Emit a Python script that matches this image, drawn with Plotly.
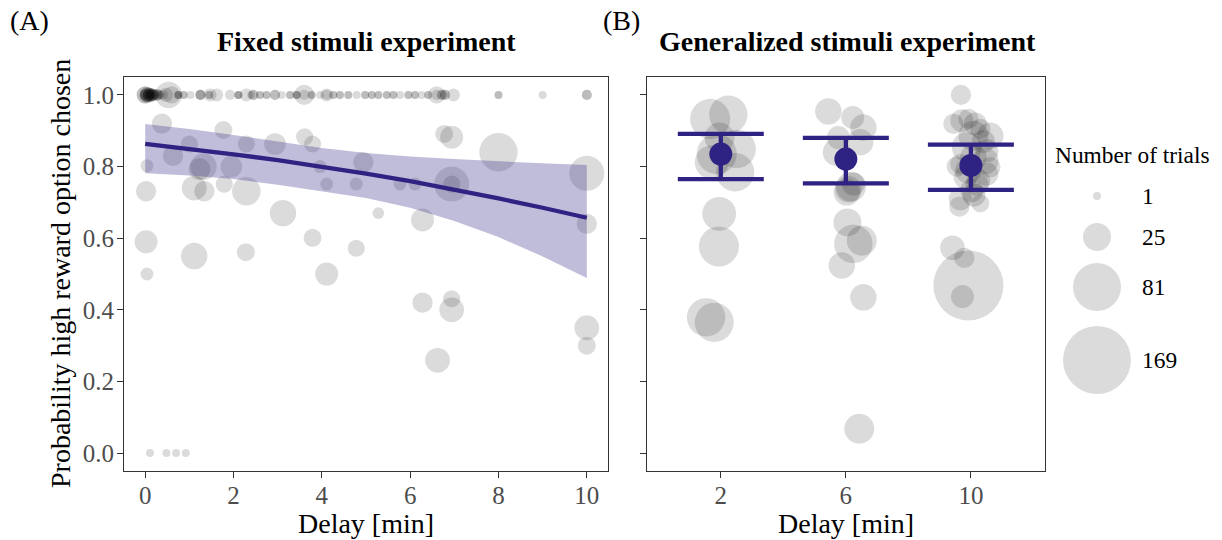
import numpy as np
import plotly.graph_objects as go

W, H = 1222, 540
FONT = "Liberation Serif"

# ---------------- Panel A: fixed stimuli experiment ----------------
# points at probability 1.0 (delay, trials, number of overlapping repeats)
top_delay = [0.00, 0.00, 0.02, 0.05, 0.05, 0.08, 0.10, 0.12, 0.15, 0.18, 0.22, 0.26, 0.30, 0.35, 0.40,
             0.47, 0.53, 0.60, 0.75, 0.87, 1.02, 1.25, 1.45, 1.47, 1.62, 1.92, 2.11, 2.29, 2.40, 2.45,
             2.60, 2.75, 2.94, 3.09, 3.28, 3.43, 3.60, 3.60, 3.77, 3.96, 4.11, 4.11, 4.26, 4.41, 4.60,
             4.79, 4.98, 5.13, 5.28, 5.47, 5.62, 5.77, 5.96, 6.11, 6.26, 6.41, 6.60, 6.60, 6.72, 6.79,
             6.98, 8.00, 9.00, 10.00]
top_trials = [8, 2, 4, 6, 1, 3, 5, 2, 4, 3, 2, 3, 2, 1, 2,
              5, 22, 8, 1, 1, 1, 2, 1, 4, 4, 2, 1, 4, 1, 2,
              1, 1, 2, 1, 1, 1, 12, 2, 1, 1, 4, 2, 1, 1, 1,
              1, 1, 1, 1, 1, 1, 1, 1, 1, 1, 1, 8, 2, 2, 2,
              4, 1, 1, 2]
top_repeats = [2, 1, 2, 2, 1, 2, 2, 1, 2, 2, 1, 2, 1, 1, 1,
               1, 1, 1, 3, 2, 1, 3, 2, 1, 1, 1, 3, 1, 1, 2,
               2, 2, 2, 1, 2, 3, 1, 1, 2, 1, 1, 1, 2, 2, 2,
               1, 2, 2, 2, 2, 2, 1, 2, 2, 1, 2, 1, 1, 2, 2,
               1, 2, 1, 2]

# remaining points of panel A
other_delay = [0.38, 1.77, 1.00, 0.63, 0.04, 1.23, 1.32, 1.95, 2.29, 2.94, 3.61, 3.79, 3.96, 4.11,
               4.94, 4.78, 0.02, 1.11, 1.34, 1.79, 2.29, 3.12, 0.02, 1.11, 2.28, 3.79, 4.78, 4.11,
               0.04, 6.77, 6.94, 8.00, 10.00, 6.94, 6.94, 5.77, 6.11, 5.28, 6.28, 10.00, 6.28, 6.94,
               6.94, 6.62, 10.00, 10.00, 0.11, 0.48, 0.70, 0.92]
other_prob = [0.920, 0.902, 0.863, 0.830, 0.802, 0.793, 0.800, 0.800, 0.863, 0.863, 0.883, 0.863, 0.800,
              0.751, 0.812, 0.751, 0.731, 0.740, 0.731, 0.751, 0.731, 0.670, 0.590, 0.550, 0.561, 0.601,
              0.572, 0.500, 0.500, 0.891, 0.882, 0.840, 0.781, 0.751, 0.751, 0.751, 0.751, 0.670, 0.651,
              0.640, 0.420, 0.431, 0.400, 0.259, 0.350, 0.300, 0.0, 0.0, 0.0, 0.0]
other_trials = [12, 9, 8, 12, 4, 14, 22, 14, 8, 14, 8, 8, 4, 4,
                12, 4, 12, 19, 12, 8, 26, 22, 16, 22, 9, 9, 8, 16,
                4, 9, 16, 50, 41, 41, 8, 4, 4, 3, 16, 12, 12, 8,
                19, 19, 19, 9, 1, 1, 1, 1]

# logistic fit and its confidence band, read at whole minutes
fit_delay = [0, 1, 2, 3, 4, 5, 6, 7, 8, 9, 10]
fit_prob = [0.863, 0.849, 0.834, 0.818, 0.800, 0.780, 0.759, 0.736, 0.711, 0.685, 0.657]
fit_upper = [0.919, 0.905, 0.888, 0.870, 0.852, 0.838, 0.828, 0.821, 0.814, 0.809, 0.804]
fit_lower = [0.781, 0.775, 0.765, 0.749, 0.731, 0.712, 0.685, 0.648, 0.603, 0.549, 0.489]

# ---------------- Panel B: generalized stimuli experiment ----------------
delay_b = [2] * 11 + [6] * 16 + [10] * 30
jitter_b = [-0.34, 0.24, -0.04, 0.51, -0.13, -0.29, 0.46, -0.05, -0.06, -0.47, -0.21,
            -0.56, 0.22, 0.56, -0.24, 0.46, -0.29, 0.08, 0.24, 0.03, 0.17, 0.05, 0.24, 0.51, -0.13, 0.56, 0.43,
            -0.32, -0.56, -0.29, -0.08, 0.14, 0.30, 0.62, 0.08, -0.13, 0.51, 0.08, 0.46, -0.34, 0.62, -0.08,
            -0.18, 0.51, 0.19, 0.03, -0.34, -0.37, 0.30, -0.59, -0.21, -0.08, -0.27, 0.40, 0.25, -0.45, 0.10]
prob_b = [0.933, 0.945, 0.881, 0.849, 0.835, 0.812, 0.784, 0.668, 0.577, 0.379, 0.365,
          0.954, 0.937, 0.909, 0.881, 0.868, 0.840, 0.737, 0.751, 0.728, 0.744, 0.644, 0.584, 0.593, 0.524, 0.435, 0.068,
          1.000, 0.919, 0.928, 0.933, 0.919, 0.905, 0.886, 0.886, 0.854, 0.844, 0.826, 0.816, 0.807, 0.798, 0.789,
          0.770, 0.779, 0.751, 0.733, 0.710, 0.688, 0.697, 0.573, 0.545, 0.468, 0.437, 0.870, 0.760, 0.800, 0.720]
trials_b = [55, 50, 29, 50, 55, 38, 50, 38, 55, 50, 52,
            22, 16, 22, 16, 22, 25, 22, 16, 22, 29, 25, 50, 29, 22, 22, 29,
            12, 12, 16, 12, 16, 12, 22, 29, 29, 16, 22, 22, 12, 12, 22,
            16, 16, 16, 16, 16, 12, 9, 19, 12, 180, 16, 16, 16, 12, 16]

groups_b = [2, 6, 10]
mean_b = [0.835, 0.821, 0.803]
lower_b = [0.765, 0.753, 0.735]
upper_b = [0.891, 0.880, 0.861]

legend_trials = [1, 25, 81, 169]

# ---------------- styling helpers ----------------
POINT = "rgba(0,0,0,0.2)"
PURPLE = "#2e2383"
AXIS = "#333333"
TICKTXT = "#4d4d4d"


def size_of(n):
    return 3 + 5 * np.sqrt(np.asarray(n, dtype=float))


def px(x):
    return x / W


def py(y):
    return 1 - y / H


top_x = np.repeat(top_delay, top_repeats)
top_n = np.repeat(top_trials, top_repeats)
delay_a = np.concatenate([top_x, other_delay])
prob_a = np.concatenate([np.ones(len(top_x)), other_prob])
trials_a = np.concatenate([top_n, other_trials])

fig = go.Figure()

# Panel A points
fig.add_trace(go.Scatter(
    x=delay_a, y=prob_a, mode="markers", xaxis="x", yaxis="y",
    marker=dict(size=size_of(trials_a), color=POINT, line=dict(width=0)),
    showlegend=False, hoverinfo="skip"))

# confidence band
fig.add_trace(go.Scatter(
    x=fit_delay + fit_delay[::-1], y=fit_upper + fit_lower[::-1],
    fill="toself", fillcolor="rgba(46,35,131,0.3)", line=dict(width=0),
    mode="lines", xaxis="x", yaxis="y", showlegend=False, hoverinfo="skip"))

# fit line
fig.add_trace(go.Scatter(
    x=fit_delay, y=fit_prob, mode="lines", line=dict(color=PURPLE, width=4.3),
    xaxis="x", yaxis="y", showlegend=False, hoverinfo="skip"))

# Panel B points
fig.add_trace(go.Scatter(
    x=np.asarray(delay_b) + np.asarray(jitter_b), y=prob_b, mode="markers", xaxis="x2", yaxis="y2",
    marker=dict(size=size_of(trials_b), color=POINT, line=dict(width=0)),
    showlegend=False, hoverinfo="skip"))

# mean with error bars
fig.add_trace(go.Scatter(
    x=groups_b, y=mean_b, mode="markers", xaxis="x2", yaxis="y2",
    marker=dict(size=23, color=PURPLE, line=dict(width=0)),
    error_y=dict(type="data", symmetric=False,
                 array=np.asarray(upper_b) - np.asarray(mean_b),
                 arrayminus=np.asarray(mean_b) - np.asarray(lower_b),
                 color=PURPLE, thickness=4.3, width=43),
    showlegend=False, hoverinfo="skip"))

# legend keys (drawn in a pixel-space overlay)
leg_y = [196, 237, 287, 360]
fig.add_trace(go.Scatter(
    x=[1097] * len(legend_trials), y=leg_y, mode="markers", xaxis="x3", yaxis="y3",
    marker=dict(size=size_of(legend_trials), color=POINT, line=dict(width=0)),
    showlegend=False, hoverinfo="skip"))

axis_common = dict(showline=True, mirror=True, linecolor=AXIS, linewidth=1.2,
                   ticks="outside", ticklen=6, tickwidth=1.2, tickcolor=AXIS,
                   showgrid=False, zeroline=False,
                   tickfont=dict(family=FONT, size=25, color=TICKTXT))

yticks = [0, 0.2, 0.4, 0.6, 0.8, 1.0]

fig.update_layout(
    width=W, height=H, margin=dict(l=0, r=0, t=0, b=0),
    paper_bgcolor="white", plot_bgcolor="rgba(0,0,0,0)",
    xaxis=dict(domain=[px(124), px(608)], range=[-0.48, 10.48],
               tickvals=[0, 2, 4, 6, 8, 10], anchor="y", ticklabelstandoff=-4, **axis_common),
    yaxis=dict(domain=[py(471), py(77)], range=[-0.05, 1.05],
               tickvals=yticks, ticktext=[f"{v:.1f}" for v in yticks], anchor="x",
               ticklabelstandoff=-2, **axis_common),
    xaxis2=dict(domain=[px(646.7), px(1045)], range=[-0.37, 12.37],
                tickvals=groups_b, anchor="y2", ticklabelstandoff=-4, **axis_common),
    yaxis2=dict(domain=[py(471), py(77)], range=[-0.05, 1.05],
                tickvals=yticks, showticklabels=False, anchor="x2", **axis_common),
    xaxis3=dict(domain=[0, 1], range=[0, W], visible=False, anchor="y3"),
    yaxis3=dict(domain=[0, 1], range=[H, 0], visible=False, anchor="x3"),
    font=dict(family=FONT, color="black"),
)

ann = []
def add_text(text, x, y, size, xanchor="center", bold=False, angle=0, color="black"):
    ann.append(dict(text=f"<b>{text}</b>" if bold else text, x=px(x), y=py(y),
                    xref="paper", yref="paper", showarrow=False,
                    xanchor=xanchor, yanchor="middle", textangle=angle,
                    font=dict(family=FONT, size=size, color=color)))

add_text("(A)", 8, 21, 28, xanchor="left")
add_text("(B)", 601, 21, 28, xanchor="left")
add_text("Fixed stimuli experiment", 366, 42, 28, bold=True)
add_text("Generalized stimuli experiment", 847, 42, 28, bold=True)
add_text("Delay [min]", 366, 523, 28)
add_text("Delay [min]", 846, 523, 28)
add_text("Probability high reward option chosen", 60, 274, 28, angle=-90)
add_text("Number of trials", 1053, 155, 23.4, xanchor="left")
for n, yy in zip(legend_trials, leg_y):
    add_text(str(n), 1140, yy, 23.4, xanchor="left")

fig.update_layout(annotations=ann)
fig.write_html("out.html")
